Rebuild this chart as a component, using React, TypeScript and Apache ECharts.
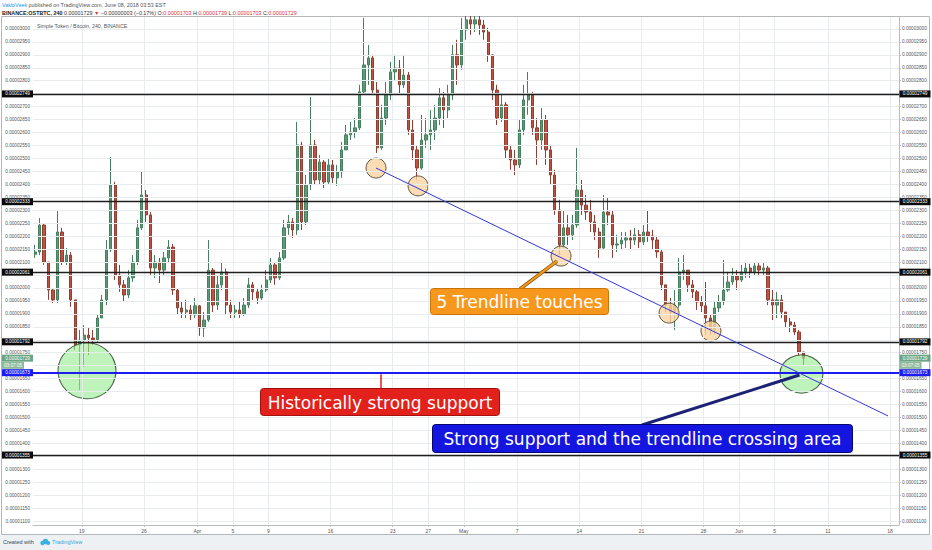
import React, { useEffect, useRef } from 'react';
import * as echarts from 'echarts';

// ---------- data (prices in 1e-8 BTC, 12h candles from Mar 13 12:00) ----------
const SLOT_COUNT = 195;
const firstOpen = 2130;
const closes = [
  2139, 2243, 2100, 1992, 1954, 2216, 2100, 2127, 1954, 1780,
  1799, 1818, 1807, 1799, 1884, 1954, 2147, 2398, 2050, 2012,
  1973, 2039, 2100, 2232, 2359, 2282, 2077, 2100, 2069, 2116,
  2158, 1992, 1923, 1907, 1915, 1896, 1931, 1846, 1876, 2069,
  1934, 2012, 2062, 1934, 1907, 1915, 1900, 1934, 2012, 1985,
  1961, 1992, 2031, 2089, 2039, 2116, 2232, 2255, 2224, 2552,
  2255, 2398, 2552, 2417, 2486, 2409, 2475, 2425, 2448, 2533,
  2591, 2602, 2618, 2757, 2861, 2888, 2764, 2541, 2656, 2745,
  2834, 2849, 2784, 2822, 2610, 2533, 2463, 2571, 2591, 2610,
  2656, 2734, 2687, 2745, 2900, 2861, 2996, 3035, 3019, 3035,
  3015, 2988, 2900, 2764, 2656, 2707, 2533, 2494, 2475, 2610,
  2726, 2745, 2618, 2571, 2649, 2533, 2436, 2301, 2166, 2232,
  2205, 2243, 2378, 2320, 2293, 2255, 2216, 2154, 2293, 2282,
  2166, 2170, 2185, 2193, 2185, 2205, 2178, 2216, 2201, 2185,
  2139, 2012, 1934, 1907, 1934, 2062, 2069, 2012, 1985, 1946,
  1931, 1884, 1838, 1923, 1946, 1992, 2023, 2046, 2031, 2062,
  2077, 2062, 2085, 2069, 2077, 1954, 1934, 1954, 1907, 1869,
  1857, 1830, 1753, 1729,
];
const highs = [
  2166, 2270, 2250, 2100, 2000, 2301, 2232, 2154, 2139, 1954,
  1838, 1857, 1846, 1838, 1896, 1973, 2185, 2506, 2410, 2089,
  2031, 2069, 2127, 2263, 2448, 2378, 2293, 2127, 2116, 2139,
  2185, 2170, 2000, 1946, 1954, 1934, 1961, 1934, 1907, 2185,
  2077, 2050, 2100, 2075, 1954, 1934, 1946, 1961, 2039, 2023,
  2000, 2012, 2069, 2116, 2100, 2139, 2263, 2282, 2270, 2641,
  2564, 2436, 2737, 2571, 2514, 2494, 2502, 2494, 2475, 2564,
  2629, 2641, 2656, 2784, 3042, 2938, 2900, 2795, 2707, 2795,
  2873, 2900, 2880, 2900, 2834, 2649, 2552, 2668, 2656, 2687,
  2707, 2772, 2757, 2784, 2938, 2958, 3042, 3050, 3050, 3050,
  3050, 3035, 3004, 2900, 2784, 2745, 2718, 2552, 2533, 2649,
  2784, 2834, 2757, 2656, 2695, 2668, 2552, 2456, 2340, 2301,
  2282, 2282, 2541, 2417, 2359, 2340, 2282, 2232, 2359, 2347,
  2301, 2205, 2216, 2216, 2224, 2232, 2224, 2243, 2301, 2224,
  2201, 2147, 2012, 1961, 1992, 2116, 2127, 2069, 2031, 1992,
  1969, 2023, 1896, 1946, 1973, 2108, 2062, 2077, 2069, 2089,
  2100, 2093, 2100, 2100, 2100, 2085, 1992, 1985, 1973, 1907,
  1884, 1869, 1838, 1753,
];
const lows = [
  2116, 2127, 2089, 1954, 1942, 1942, 2089, 2089, 1927, 1761,
  1606, 1695, 1741, 1780, 1792, 1884, 1934, 2139, 2031, 1985,
  1946, 1961, 2023, 2089, 2224, 2255, 2050, 2039, 2019, 2050,
  2100, 1973, 1896, 1884, 1884, 1876, 1884, 1815, 1811, 1869,
  1907, 1915, 1992, 1896, 1884, 1884, 1884, 1892, 1923, 1954,
  1938, 1954, 1985, 2019, 2012, 2031, 2108, 2205, 2193, 2205,
  2224, 2243, 2378, 2398, 2398, 2386, 2398, 2405, 2394, 2425,
  2533, 2571, 2579, 2610, 2750, 2784, 2745, 2521, 2533, 2629,
  2726, 2803, 2745, 2772, 2591, 2494, 2417, 2456, 2541, 2533,
  2571, 2629, 2618, 2656, 2726, 2784, 2842, 2958, 2977, 2988,
  2977, 2958, 2873, 2726, 2629, 2641, 2502, 2456, 2436, 2463,
  2591, 2668, 2591, 2475, 2533, 2475, 2398, 2282, 2127, 2154,
  2166, 2185, 2232, 2282, 2263, 2216, 2185, 2116, 2147, 2243,
  2116, 2139, 2147, 2154, 2147, 2166, 2154, 2166, 2178, 2147,
  2116, 1992, 1907, 1869, 1838, 1923, 2031, 1985, 1961, 1915,
  1907, 1819, 1819, 1822, 1907, 1934, 1985, 2012, 1992, 2023,
  2039, 2039, 2050, 2046, 2050, 1934, 1876, 1884, 1884, 1846,
  1830, 1819, 1738, 1703,
];

// x axis: days from Mar 19 (00:00)
const tickDays = [0, 7, 13, 17, 21, 28, 35, 39, 43, 49, 56, 63, 70, 74, 78, 84, 91];
const tickLabels = ['19', '26', 'Apr', '5', '9', '16', '23', '27', 'May', '7', '14', '21', '28', 'Jun', '5', '11', '18'];
const priceTicks = Array.from({ length: 39 }, (_, k) => 1100 + 50 * k);
// price labels that sit hidden under the level tags in the reference
const hiddenPriceLabels = [2750, 2050, 1800, 1700, 1350];

// horizontal levels drawn by the author
const blackLevels = [2749, 2333, 2061, 1792, 1355];
const supportLevel = 1673;
const lastPrice = 1729;

// trendline (day, price) and touch points
const trendLine = [[33.12, 2463], [90.76, 1506]];
const touches = [[33.12, 2463], [37.85, 2394], [53.95, 2123], [66.11, 1903], [70.83, 1834]];
const greenZones = [
  { value: [0.58, 1680], size: [58, 56] },
  { value: [81.02, 1668], size: [43, 38] },
];

const AXF = 'Liberation Sans, Arial, sans-serif';
const CALLF = 'DejaVu Sans, Verdana, sans-serif';
const fmt = (v: number) => '0.0000' + String(Math.round(v)).padStart(4, '0');

function buildOption(): any {
  const slotNames = Array.from({ length: SLOT_COUNT }, (_, i) => String(i));
  const candleData = closes.map((c, i) => [i === 0 ? firstOpen : closes[i - 1], c, lows[i], highs[i]]);
  const labelValues = priceTicks.filter((v) => !hiddenPriceLabels.includes(v));
  const yAxisBase = (pos: 'left' | 'right') => ({
    type: 'value',
    position: pos,
    min: 1085,
    max: 3046,
    axisLine: { show: true, lineStyle: { color: '#b9bdc1', width: 1 } },
    axisTick: { show: true, customValues: priceTicks, length: 2, lineStyle: { color: '#b9bdc1' } },
    axisLabel: {
      customValues: labelValues,
      formatter: (v: number) => fmt(v),
      fontSize: 4.7,
      fontFamily: AXF,
      color: '#555',
      margin: 3,
    },
    splitLine: { show: false },
  });
  return {
    animation: false,
    backgroundColor: 'transparent',
    grid: { left: 33, right: 33, top: 17, bottom: 25, containLabel: false },
    xAxis: [
      { type: 'category', data: slotNames, boundaryGap: true, show: false },
      {
        type: 'value',
        min: -5.5,
        max: 92,
        position: 'bottom',
        axisLine: { show: true, lineStyle: { color: '#b9bdc1' } },
        axisTick: { show: true, customValues: tickDays, length: 2, lineStyle: { color: '#b9bdc1' } },
        axisLabel: {
          customValues: tickDays,
          formatter: (v: number) => tickLabels[tickDays.indexOf(v)] ?? '',
          fontSize: 5,
          fontFamily: AXF,
          color: '#555',
          margin: 3,
        },
        splitLine: { show: false },
      },
    ],
    yAxis: [yAxisBase('left'), yAxisBase('right')],
    series: [
      {
        // grid lines
        type: 'line',
        xAxisIndex: 1,
        yAxisIndex: 0,
        data: [[-5.5, 1085]],
        symbol: 'none',
        lineStyle: { opacity: 0 },
        z: 1,
        silent: true,
        markLine: {
          silent: true,
          symbol: ['none', 'none'],
          label: { show: false },
          lineStyle: { color: '#e9ecef', width: 1, type: 'solid' },
          data: [...priceTicks.map((v) => ({ yAxis: v })), ...tickDays.map((d) => ({ xAxis: d }))],
        },
      },
      {
        type: 'candlestick',
        xAxisIndex: 0,
        yAxisIndex: 0,
        data: candleData,
        barWidth: 2.8,
        z: 2,
        itemStyle: {
          color: '#5a9a76',
          color0: '#c0503f',
          borderColor: '#47805f',
          borderColor0: '#8f4034',
          borderWidth: 1,
        },
      },
      {
        // green zones
        type: 'scatter',
        xAxisIndex: 1,
        yAxisIndex: 0,
        z: 3,
        data: greenZones.map((g) => ({ value: g.value, symbolSize: g.size })),
        itemStyle: { color: 'rgba(150,236,146,0.78)', borderColor: '#1d3a1d', borderWidth: 1 },
        silent: true,
      },
      {
        // trendline
        type: 'line',
        xAxisIndex: 1,
        yAxisIndex: 0,
        data: trendLine,
        symbol: 'none',
        z: 6,
        lineStyle: { color: '#3535d6', width: 1 },
        silent: true,
      },
      {
        // touch circles
        type: 'scatter',
        xAxisIndex: 1,
        yAxisIndex: 0,
        z: 4,
        data: touches,
        symbolSize: 20,
        itemStyle: { color: '#fad5a2', borderColor: '#3d3320', borderWidth: 1 },
        silent: true,
      },
      {
        // support / resistance levels
        type: 'line',
        xAxisIndex: 1,
        yAxisIndex: 0,
        data: [[-5.5, 1085]],
        symbol: 'none',
        lineStyle: { opacity: 0 },
        z: 5,
        silent: true,
        markLine: {
          silent: true,
          symbol: ['none', 'none'],
          label: { show: false },
          data: [
            ...blackLevels.map((v) => ({ yAxis: v, lineStyle: { color: '#1f1f1f', width: 1.4, type: 'solid' } })),
            { yAxis: supportLevel, lineStyle: { color: '#1c1cf2', width: 2, type: 'solid' } },
          ],
        },
      },
    ],
  };
}

function buildGraphic(chart: any): any[] {
  const py = (v: number) => chart.convertToPixel({ yAxisIndex: 0 }, v) as number;
  const pt = (d: number, v: number) => chart.convertToPixel({ seriesIndex: 3 }, [d, v]) as number[];
  const els: any[] = [];
  const TAG_H = 7;

  // frame and page strips
  els.push({ type: 'rect', z: 0, silent: true, shape: { x: 0, y: 535, width: 932, height: 15 }, style: { fill: '#eef1f4' } });
  els.push({ type: 'rect', z: 0, silent: true, shape: { x: 1.5, y: 16.5, width: 928, height: 518 }, style: { fill: 'none', stroke: '#b3b7bb', lineWidth: 1 } });

  const tag = (v: number, text: string, bg: string, w: number, dy = 0) => {
    const y = py(v) + dy;
    const rx = 899.5;
    const lx = 2;
    els.push({ type: 'rect', z: 100, shape: { x: rx, y: y - TAG_H / 2, width: w, height: TAG_H }, style: { fill: bg } });
    els.push({ type: 'text', z: 101, x: rx + w / 2, y, style: { text, fill: '#ffffff', fontSize: 4.7, fontFamily: AXF, align: 'center', verticalAlign: 'middle' } });
    els.push({ type: 'rect', z: 100, shape: { x: lx, y: y - TAG_H / 2, width: w, height: TAG_H }, style: { fill: bg } });
    els.push({ type: 'text', z: 101, x: lx + w / 2, y, style: { text, fill: '#ffffff', fontSize: 4.7, fontFamily: AXF, align: 'center', verticalAlign: 'middle' } });
  };
  blackLevels.forEach((v) => tag(v, fmt(v), '#0b0b0b', 31));
  tag(lastPrice, fmt(lastPrice), '#6ba583', 31);
  tag(lastPrice, '03:07:05', '#8cb99a', 22, 7.2);
  tag(supportLevel, fmt(supportLevel), '#1c1cf2', 31);

  // header
  els.push({
    type: 'text', z: 100, x: 2, y: 5,
    style: {
      text: '{a|VakloVeek} published on TradingView.com, June 08, 2018 03:53 EST',
      fill: '#555', fontSize: 5.4, fontFamily: AXF, verticalAlign: 'middle',
      rich: { a: { fill: '#2196f3', color: '#2196f3', fontSize: 5.4, fontFamily: AXF } },
    },
  });
  els.push({
    type: 'text', z: 100, x: 2, y: 13,
    style: {
      text: '{b|BINANCE:OSTBTC, 240} 0.00001729 {r|▼} −0.00000003 (−0.17%) O:{r|0.00001703} H:{r|0.00001739} L:{r|0.00001703} C:{r|0.00001729}',
      fill: '#333', fontSize: 5.4, fontFamily: AXF, verticalAlign: 'middle',
      rich: {
        b: { fontWeight: 'bold', fill: '#222', color: '#222', fontSize: 5.4, fontFamily: AXF },
        r: { fill: '#e0303a', color: '#e0303a', fontSize: 5.4, fontFamily: AXF },
      },
    },
  });
  els.push({
    type: 'text', z: 100, x: 37, y: 26,
    style: { text: 'Simple Token / Bitcoin, 240, BINANCE', fill: '#555', fontSize: 5.3, fontFamily: AXF, verticalAlign: 'middle' },
  });

  // footer
  els.push({ type: 'text', z: 100, x: 3, y: 542, style: { text: 'Created with', fill: '#444', fontSize: 5.5, fontFamily: AXF, verticalAlign: 'middle' } });
  els.push({ type: 'circle', z: 100, shape: { cx: 42.5, cy: 543, r: 2.2 }, style: { fill: '#3bb0e0' } });
  els.push({ type: 'circle', z: 100, shape: { cx: 45.5, cy: 541.5, r: 2.8 }, style: { fill: '#3bb0e0' } });
  els.push({ type: 'circle', z: 100, shape: { cx: 48.2, cy: 543, r: 2 }, style: { fill: '#3bb0e0' } });
  els.push({ type: 'text', z: 100, x: 52, y: 542, style: { text: 'TradingView', fill: '#33a6d9', fontSize: 5.5, fontFamily: AXF, verticalAlign: 'middle' } });

  // callout: 5 Trendline touches
  const t3 = pt(touches[2][0], touches[2][1]);
  els.push({ type: 'line', z: 110, shape: { x1: 520, y1: 289, x2: t3[0] - 4, y2: t3[1] + 5 }, style: { stroke: '#8a5a10', lineWidth: 3.6 } });
  els.push({ type: 'line', z: 111, shape: { x1: 520, y1: 289, x2: t3[0] - 4, y2: t3[1] + 5 }, style: { stroke: '#f7981d', lineWidth: 2 } });
  els.push({ type: 'rect', z: 112, shape: { x: 430.5, y: 288.5, width: 178, height: 26, r: 3 }, style: { fill: '#f7981d', stroke: '#c8740a', lineWidth: 1 } });
  els.push({ type: 'text', z: 113, x: 519.5, y: 302, style: { text: '5 Trendline touches', fill: '#ffffff', fontSize: 17, fontFamily: CALLF, align: 'center', verticalAlign: 'middle' } });

  // callout: Historically strong support
  const sy = py(supportLevel);
  els.push({ type: 'line', z: 110, shape: { x1: 381, y1: 389, x2: 381, y2: sy + 1.5 }, style: { stroke: '#e3211c', lineWidth: 1.5 } });
  els.push({ type: 'rect', z: 112, shape: { x: 260.5, y: 388.5, width: 239, height: 27, r: 3 }, style: { fill: '#e3211c', stroke: '#a3120e', lineWidth: 1 } });
  els.push({ type: 'text', z: 113, x: 380, y: 402.5, style: { text: 'Historically strong support', fill: '#ffffff', fontSize: 17, fontFamily: CALLF, align: 'center', verticalAlign: 'middle' } });

  // callout: Strong support and the trendline crossing area
  const gz = pt(greenZones[1].value[0], greenZones[1].value[1]);
  els.push({ type: 'line', z: 110, shape: { x1: 642, y1: 425, x2: gz[0] - 2, y2: gz[1] + 1 }, style: { stroke: '#1b2275', lineWidth: 3 } });
  els.push({ type: 'rect', z: 112, shape: { x: 432.5, y: 424.5, width: 420, height: 28, r: 3 }, style: { fill: '#1515e0', stroke: '#05056e', lineWidth: 1 } });
  els.push({ type: 'text', z: 113, x: 642.5, y: 439, style: { text: 'Strong support and the trendline crossing area', fill: '#ffffff', fontSize: 17, fontFamily: CALLF, align: 'center', verticalAlign: 'middle' } });

  return els;
}

export default function App() {
  const ref = useRef<HTMLDivElement>(null);
  useEffect(() => {
    if (!ref.current) return;
    const chart = echarts.init(ref.current, null, { renderer: 'svg' });
    chart.setOption(buildOption());
    chart.setOption({ graphic: buildGraphic(chart) });
    return () => chart.dispose();
  }, []);
  return (
    <div
      ref={ref}
      style={{ position: 'fixed', left: 0, top: 0, width: 932, height: 550, background: '#ffffff' }}
    />
  );
}
